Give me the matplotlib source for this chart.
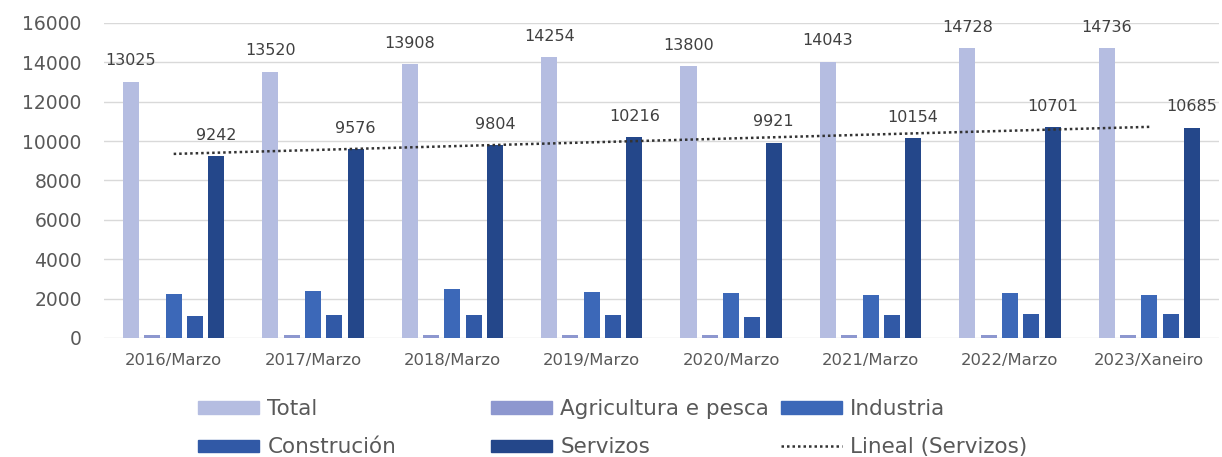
import numpy as np
import matplotlib
matplotlib.use("Agg")
import matplotlib.pyplot as plt
from matplotlib.patches import Patch
from matplotlib.lines import Line2D

# Afiliación por sector
periods = ["2016/Marzo", "2017/Marzo", "2018/Marzo", "2019/Marzo",
           "2020/Marzo", "2021/Marzo", "2022/Marzo", "2023/Xaneiro"]
total = [13025, 13520, 13908, 14254, 13800, 14043, 14728, 14736]
agricultura = [170, 160, 150, 150, 160, 150, 160, 150]
industria = [2250, 2380, 2510, 2330, 2290, 2200, 2290, 2200]
construcion = [1100, 1150, 1150, 1190, 1060, 1190, 1220, 1240]
servizos = [9242, 9576, 9804, 10216, 9921, 10154, 10701, 10685]

series_names = ["Total", "Agricultura e pesca", "Industria", "Construción", "Servizos"]
colors = ["#b5bde1", "#8d97cf", "#3c68b8", "#3159a6", "#24478a"]
grey = "#595959"


def plot_sectors():
    fig, ax = plt.subplots(figsize=(12.22, 4.57), dpi=100)
    fig.subplots_adjust(left=0.0851, right=0.9975, bottom=0.2604, top=0.9497)

    x = np.arange(len(periods))
    width = 0.115
    step = 0.153
    data = [total, agricultura, industria, construcion, servizos]
    for i, (vals, col) in enumerate(zip(data, colors)):
        ax.bar(x + (i - 2) * step, vals, width=width, color=col, zorder=2)

    # data labels for Total and Servizos
    for xi, v in zip(x, total):
        ax.annotate(str(v), (xi - 2 * step, v), xytext=(0, 15), textcoords="offset points",
                    ha="center", va="center", fontsize=11.5, color="#404040")
    for xi, v in zip(x, servizos):
        ax.annotate(str(v), (xi + 2 * step, v), xytext=(0, 15), textcoords="offset points",
                    ha="center", va="center", fontsize=11.5, color="#404040")

    # linear trend of Servizos
    slope, intercept = np.polyfit(x, servizos, 1)
    ax.plot(x, slope * x + intercept, linestyle=(0, (1, 1.2)), color="#333333",
            linewidth=1.8, zorder=3)

    ax.set_xlim(-0.5, len(periods) - 0.5)
    ax.set_ylim(0, 16000)
    ax.set_yticks(range(0, 16001, 2000))
    ax.set_xticks(x)
    ax.set_xticklabels(periods)
    ax.tick_params(axis="y", length=0, pad=16, labelsize=13.5, labelcolor=grey)
    ax.tick_params(axis="x", length=0, pad=11, labelsize=11.8, labelcolor=grey)
    ax.grid(axis="y", color="#d9d9d9", linewidth=1, zorder=0)
    for s in ax.spines.values():
        s.set_visible(False)

    # legend in three columns
    handles = [Patch(color=c) for c in colors]
    trend = Line2D([], [], linestyle=(0, (1, 1.2)), color="#333333", linewidth=1.8)
    cols = [
        ([handles[0], handles[3]], [series_names[0], series_names[3]], 198),
        ([handles[1], handles[4]], [series_names[1], series_names[4]], 491),
        ([handles[2], trend], [series_names[2], "Lineal (Servizos)"], 781),
    ]
    for h, lab, xpx in cols:
        fig.legend(h, lab, loc="center left", bbox_to_anchor=(xpx / 1222, 0.063),
                   frameon=False, fontsize=15.5, labelcolor=grey, borderpad=0,
                   borderaxespad=0, handlelength=2.85, handleheight=0.5,
                   handletextpad=0.37, labelspacing=0.85)

    fig.savefig("out.png", dpi=100, facecolor="white")


if __name__ == "__main__":
    plot_sectors()
